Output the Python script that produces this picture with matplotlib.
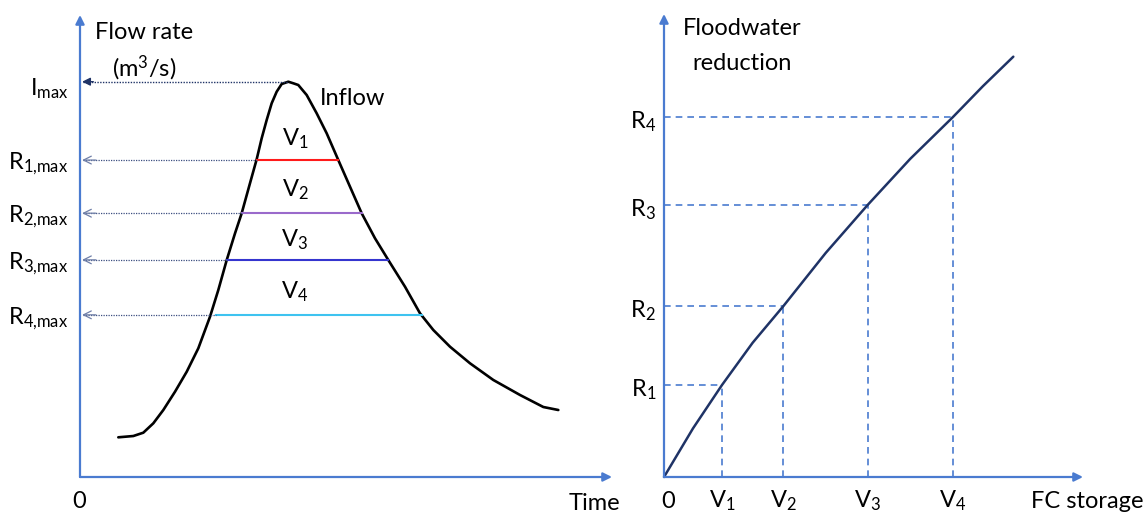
import matplotlib
matplotlib.use("Agg")
import matplotlib.pyplot as plt

# fuente parecida a Calibri y subíndices con la misma familia
plt.rcParams['font.family'] = ['Lato', 'DejaVu Sans']
plt.rcParams['mathtext.fontset'] = 'custom'
plt.rcParams['mathtext.rm'] = 'Lato'
plt.rcParams['mathtext.it'] = 'Lato:italic'

# --- datos del hidrograma (tiempo, caudal) en unidades arbitrarias 0-100
t_inflow = [7.20, 10.02, 11.90, 13.78, 15.66, 17.86, 20.06, 22.24, 24.44, 26.00,
            27.58, 29.14, 30.39, 31.95, 33.21, 34.15, 35.09, 36.03, 36.97, 37.91,
            39.15, 40.09, 41.03, 42.61, 44.49, 46.37, 48.55, 50.75, 52.95, 55.45,
            57.95, 61.09, 63.91, 66.41, 69.55, 73.31, 77.69, 82.71, 87.09, 89.91]
q_inflow = [8.59, 8.87, 9.59, 11.62, 14.50, 18.46, 22.79, 27.86, 34.70, 40.48,
            46.97, 52.75, 57.08, 63.57, 68.77, 73.31, 77.27, 80.89, 83.40, 85.06,
            85.56, 85.22, 84.85, 82.68, 78.72, 74.39, 68.61, 62.84, 57.08, 51.67,
            46.97, 41.19, 35.43, 31.82, 28.20, 24.61, 21.00, 17.75, 15.15, 14.50]
q_peak = 85.56
t_peak = 39.15

# niveles de caudal máximo regulado y extremos de cada tramo horizontal
r_levels = [68.6, 57.1, 47.0, 35.1]
r_left = [33.3, 30.5, 27.6, 25.6]
r_right = [48.5, 53.0, 57.9, 64.3]
r_colors = ['#FF1A1A', '#9A6ACB', '#3535CF', '#3EC3F0']
r_labels = [r'R$_\mathrm{1{,}max}$', r'R$_\mathrm{2{,}max}$', r'R$_\mathrm{3{,}max}$', r'R$_\mathrm{4{,}max}$']
v_labels = [r'V$_\mathrm{1}$', r'V$_\mathrm{2}$', r'V$_\mathrm{3}$', r'V$_\mathrm{4}$']
v_label_q = [73.2, 62.1, 51.3, 40.0]

# --- curva de reducción (almacenamiento, reducción)
storage = [0, 6.92, 13.84, 21.16, 28.48, 38.6, 48.6, 58.75, 68.9, 76.1, 83.37]
reduction = [0, 10.5, 19.87, 29.0, 36.9, 48.4, 58.75, 68.7, 77.69, 84.4, 90.78]
v_points = [13.84, 28.48, 48.6, 68.9]
r_points = [19.87, 36.9, 58.75, 77.69]

axis_blue = '#4A7BD0'
navy = '#1F3366'
fs = 17

W, H = 1147, 515
fig = plt.figure(figsize=(W / 100, H / 100), dpi=100)


def add_box(x0, y0, x1, y1):
    # caja en píxeles (y hacia abajo) -> ejes
    return fig.add_axes([x0 / W, (H - y0) / H, (x1 - x0) / W, (y0 - y1) / H])


def draw_axes(ax):
    ax.set_xlim(0, 100)
    ax.set_ylim(0, 100)
    ax.axis('off')
    for xy in [(1, 0), (0, 1)]:
        ax.annotate('', xy=xy, xytext=(0, 0), xycoords='axes fraction',
                    arrowprops=dict(arrowstyle='-|>', color=axis_blue, lw=1.6,
                                    mutation_scale=13, shrinkA=0, shrinkB=0))


# ---------------- panel izquierdo
ax1 = add_box(80, 477, 612, 15)
draw_axes(ax1)
ax1.plot(t_inflow, q_inflow, color='black', lw=1.9, solid_capstyle='round',
         solid_joinstyle='round', clip_on=False)

# flecha del pico
ax1.plot([0.6, t_peak], [q_peak, q_peak], color=navy, lw=1, dashes=(1, 1))
ax1.annotate('', xy=(0.4, q_peak), xytext=(2.5, q_peak),
             arrowprops=dict(arrowstyle='-|>', color=navy, lw=1, mutation_scale=12,
                             shrinkA=0, shrinkB=0))
ax1.text(-2.2, q_peak - 1.5, r'I$_\mathrm{max}$', fontsize=fs, ha='right', va='center')

for lev, xl, xr, c, lab in zip(r_levels, r_left, r_right, r_colors, r_labels):
    ax1.plot([xl, xr], [lev, lev], color=c, lw=1.5)
    ax1.plot([0.6, xl], [lev, lev], color='#3C4F80', lw=0.9, dashes=(1, 1))
    ax1.annotate('', xy=(0.4, lev), xytext=(3.0, lev),
                 arrowprops=dict(arrowstyle='->', color='#6F7FA8', lw=0.9,
                                 mutation_scale=14, shrinkA=0, shrinkB=0))
    ax1.text(-2.3, lev - 0.8, lab, fontsize=fs, ha='right', va='center')

for lab, q in zip(v_labels, v_label_q):
    ax1.text(40.4, q, lab, fontsize=fs, ha='center', va='center')

ax1.text(45.0, 82.0, 'Inflow', fontsize=fs, ha='left', va='center')
ax1.text(2.8, 96.3, 'Flow rate', fontsize=fs, ha='left', va='center')
ax1.text(6.0, 88.5, r'(m$^\mathrm{3}$/s)', fontsize=fs, ha='left', va='center')
ax1.text(-0.2, -5.4, '0', fontsize=fs, ha='center', va='center')
ax1.text(101.5, -5.8, 'Time', fontsize=fs, ha='right', va='center')

# ---------------- panel derecho
ax2 = add_box(664, 477, 1083, 14)
draw_axes(ax2)
for v, r in zip(v_points, r_points):
    ax2.plot([0, v], [r, r], color=axis_blue, lw=1.2, dashes=(4, 3))
    ax2.plot([v, v], [0, r], color=axis_blue, lw=1.2, dashes=(4, 3))
ax2.plot(storage, reduction, color=navy, lw=1.8, solid_capstyle='round',
         solid_joinstyle='round', clip_on=False)

for i, (v, r) in enumerate(zip(v_points, r_points)):
    ax2.text(v, -5.2, r'V$_\mathrm{%d}$' % (i + 1), fontsize=fs, ha='center', va='center')
    ax2.text(-1.9, r - 1.0, r'R$_\mathrm{%d}$' % (i + 1), fontsize=fs, ha='right', va='center')

ax2.text(1.0, -5.2, '0', fontsize=fs, ha='center', va='center')
ax2.text(114.4, -5.2, 'FC storage', fontsize=fs, ha='right', va='center')
ax2.text(18.6, 96.8, 'Floodwater', fontsize=fs, ha='center', va='center')
ax2.text(18.6, 89.4, 'reduction', fontsize=fs, ha='center', va='center')

fig.savefig('out.png', dpi=100)
